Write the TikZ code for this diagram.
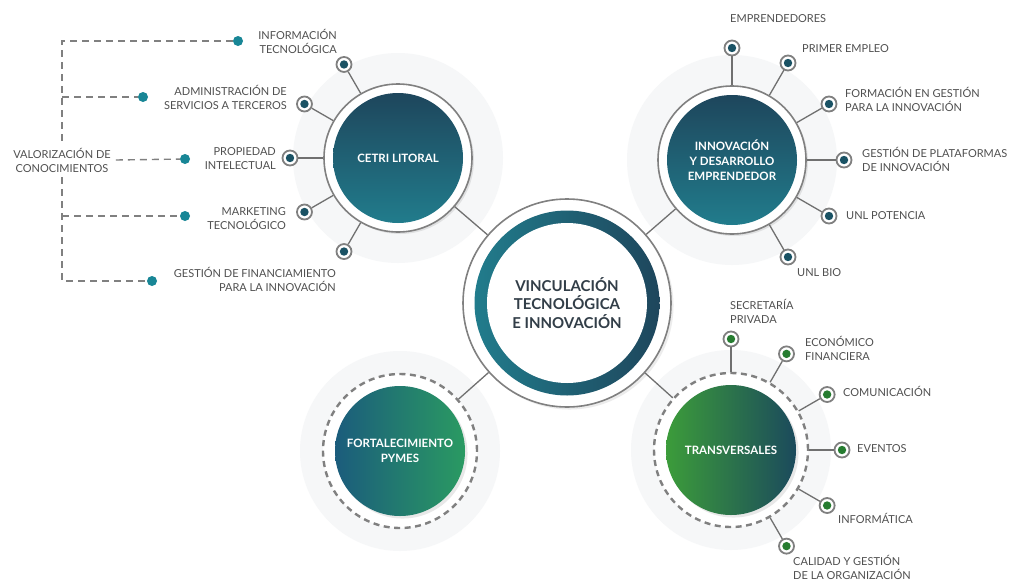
\documentclass[tikz,border=0pt]{standalone}
\usepackage{fontspec}
\setmainfont{Lato}
\definecolor{textgray}{RGB}{80,80,80}
\definecolor{ringgray}{RGB}{128,128,128}
\definecolor{linegray}{RGB}{112,112,112}
\definecolor{halogray}{RGB}{246,247,248}
\definecolor{tealmark}{RGB}{26,82,100}
\definecolor{tealdot}{RGB}{24,134,150}
\definecolor{greenmark}{RGB}{38,124,48}
\definecolor{navyteal}{RGB}{30,70,92}
\definecolor{midteal}{RGB}{33,124,140}
\definecolor{titlegray}{RGB}{50,62,72}
\definecolor{fortleft}{RGB}{27,92,124}
\definecolor{fortmid}{RGB}{22,148,164}
\definecolor{fortright}{RGB}{42,154,98}
\definecolor{transleft}{RGB}{60,156,58}
\definecolor{transmid}{RGB}{40,124,62}
\definecolor{transright}{RGB}{27,74,92}
\usetikzlibrary{positioning,shadows}

\tikzset{
  lbl/.style={font=\fontsize{11}{14}\selectfont, text=textgray, inner sep=0pt},
  ring/.style={circle, draw=ringgray, line width=1.6pt, fill=white, minimum size=148pt, inner sep=0pt,
    drop shadow={opacity=0.18, shadow xshift=2pt, shadow yshift=-2pt}},
  dashring/.style={circle, draw=ringgray, line width=2.4pt, dash pattern=on 6pt off 4.5pt,
    fill=white, minimum size=154pt, inner sep=0pt},
  disk/.style={circle, minimum size=130pt, inner sep=0pt, text=white, align=center,
    font=\fontsize{11.5}{15}\selectfont\bfseries},
  halo/.style={circle, fill=halogray, minimum size=210pt},
  spoke/.style={draw=linegray, line width=1.3pt},
  knob/.style={circle, draw=ringgray, line width=1.8pt, fill=white, minimum size=15pt, inner sep=0pt,
    path picture={\fill[#1] (path picture bounding box.center) circle (4.2pt);}},
  bullet/.style={circle, fill=tealdot, minimum size=10pt, inner sep=0pt},
  bus/.style={draw=ringgray, line width=1.4pt, dash pattern=on 7pt off 5pt},
}

\begin{document}
\begin{tikzpicture}[x=1pt,y=1pt]
  \fill[white] (0,0) rectangle (1017,-581);
  \useasboundingbox (0,0) rectangle (1017,-581);

  % halos
  \node[halo] at (398,-158) {};
  \node[halo] at (732,-160) {};
  \node[halo,minimum size=200pt] at (400,-451) {};
  \node[halo,minimum size=200pt] at (731,-450) {};

  % satellite circles
  \node[ring] (cetri) at (398,-158) {};
  \node[disk,top color=navyteal,bottom color=midteal] (cetriin) at (cetri) {CETRI LITORAL};
  \node[ring] (innov) at (732,-160) {};
  \node[disk,top color=navyteal,bottom color=midteal] (innovin) at (innov) {INNOVACIÓN\\Y DESARROLLO\\EMPRENDEDOR};
  \node[dashring] (fort) at (400,-451) {};
  \node[disk,left color=fortleft,middle color=fortmid,right color=fortright,
        drop shadow={opacity=0.18}] (fortin) at (fort) {FORTALECIMIENTO\\PYMES};
  \node[dashring] (trans) at (731,-450) {};
  \node[disk,left color=transleft,middle color=transmid,right color=transright,
        drop shadow={opacity=0.18}] (transin) at (trans) {TRANSVERSALES};

  % central circle
  \node[circle,draw=ringgray,line width=1.6pt,fill=white,minimum size=208pt,
        drop shadow={opacity=0.15}] (vtout) at (567,-303) {};
  \node[circle,minimum size=185pt,left color=midteal,right color=navyteal] (vtring) at (vtout) {};
  \node[circle,fill=white,minimum size=160pt,align=center,text=titlegray,
        font=\fontsize{15}{18.5}\selectfont\bfseries] (vt) at (vtout) {VINCULACIÓN\\TECNOLÓGICA\\E INNOVACIÓN};

  \foreach \s in {cetri,innov,fort,trans}
    \draw[spoke] (vtout) -- (\s);

  % CETRI
  \foreach \a/\n in {120/1,150/2,180/3,210/4,240/5}{
    \node[knob=tealmark] (c\n) at ([shift={(\a:108)}]cetri.center) {};
    \draw[spoke] (cetri) -- (c\n);
  }
  \node[lbl,align=right,anchor=east] (infotec) at (337,-41) {INFORMACIÓN\\TECNOLÓGICA};
  \node[lbl,align=right,anchor=east] (admin) at (287,-97) {ADMINISTRACIÓN DE\\SERVICIOS A TERCEROS};
  \node[lbl,align=right,anchor=east] (propint) at (276,-159) {PROPIEDAD\\INTELECTUAL};
  \node[lbl,align=right,anchor=east] (marktec) at (286,-219) {MARKETING\\TECNOLÓGICO};
  \node[lbl,align=right,anchor=east] (gestfin) at (336,-279) {GESTIÓN DE FINANCIAMIENTO\\PARA LA INNOVACIÓN};

  % valorizacion
  \node[bullet] (b1) at (238,-41) {};
  \node[bullet] (b2) at (143,-97) {};
  \node[bullet] (b3) at (185,-159) {};
  \node[bullet] (b4) at (185,-216) {};
  \node[bullet] (b5) at (152,-281) {};
  \node[lbl,align=center,inner sep=5pt] (valor) at (62,-160) {VALORIZACIÓN DE\\CONOCIMIENTOS};
  \coordinate (bt) at (62,-41);
  \coordinate (bb) at (62,-281);
  \draw[bus] (b1) -- (bt) -- (valor.north);
  \draw[bus] (valor.south) -- (bb) -- (b5);
  \draw[bus] (b2 -| bt) -- (b2);
  \draw[bus] (valor.east) -- (b3);
  \draw[bus] (b4 -| bt) -- (b4);

  % innovacion
  \foreach \a/\n in {90/1,60/2,30/3,0/4,-30/5,-60/6}{
    \node[knob=tealmark] (i\n) at ([shift={(\a:112)}]innov.center) {};
    \draw[spoke] (innov) -- (i\n);
  }
  \node[lbl,anchor=west] (empr) at (730,-19) {EMPRENDEDORES};
  \node[lbl,anchor=west] (primer) at (802,-49) {PRIMER EMPLEO};
  \node[lbl,anchor=west,align=left] (formgest) at (845,-99) {FORMACIÓN EN GESTIÓN\\PARA LA INNOVACIÓN};
  \node[lbl,anchor=west,align=left] (plataf) at (862,-159) {GESTIÓN DE PLATAFORMAS\\DE INNOVACIÓN};
  \node[lbl,anchor=west] (potencia) at (846,-216) {UNL POTENCIA};
  \node[lbl,anchor=west] (unlbio) at (797,-273) {UNL BIO};

  % transversales
  \foreach \a/\n in {90/1,60/2,30/3,0/4,-30/5,-60/6}{
    \node[knob=greenmark] (t\n) at ([shift={(\a:111)}]trans.center) {};
    \draw[spoke] (trans) -- (t\n);
  }
  \node[lbl,anchor=west,align=left] (secret) at (730,-311) {SECRETARÍA\\PRIVADA};
  \node[lbl,anchor=west,align=left] (econ) at (805,-348) {ECONÓMICO\\FINANCIERA};
  \node[lbl,anchor=west] (comun) at (843,-391) {COMUNICACIÓN};
  \node[lbl,anchor=west] (eventos) at (857,-449) {EVENTOS};
  \node[lbl,anchor=west] (inform) at (838,-518) {INFORMÁTICA};
  \node[lbl,anchor=west,align=left] (calidad) at (793,-567) {CALIDAD Y GESTIÓN\\DE LA ORGANIZACIÓN};
\end{tikzpicture}
\end{document}
